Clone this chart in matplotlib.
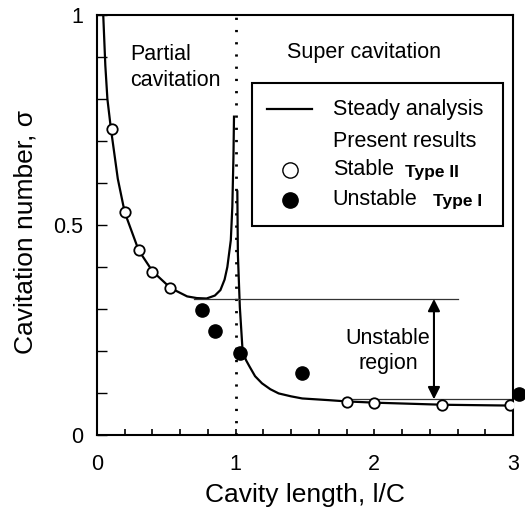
import matplotlib
matplotlib.use("Agg")
import matplotlib.pyplot as plt
from matplotlib.lines import Line2D
from matplotlib.patches import Rectangle

plt.rcParams['font.family'] = ['Liberation Sans', 'DejaVu Sans']

# Steady analysis: partial cavitation branch
partial_x = [0.045, 0.06, 0.075, 0.1, 0.15, 0.2, 0.3, 0.4, 0.53, 0.65, 0.72, 0.79, 0.85, 0.89,
             0.92, 0.94, 0.965, 0.976, 0.984, 0.988]
partial_y = [1.0, 0.88, 0.80, 0.73, 0.61, 0.53, 0.44, 0.39, 0.35, 0.33, 0.326, 0.325, 0.332, 0.345,
             0.37, 0.40, 0.464, 0.544, 0.663, 0.758]
# Steady analysis: super cavitation branch
super_x = [1.012, 1.016, 1.03, 1.05, 1.075, 1.1, 1.14, 1.19, 1.25, 1.31, 1.4, 1.48, 1.67, 1.8,
           2.0, 2.5, 3.0]
super_y = [0.58, 0.43, 0.305, 0.20, 0.178, 0.163, 0.140, 0.123, 0.109, 0.099, 0.092, 0.087,
           0.083, 0.080, 0.077, 0.072, 0.070]

# Present results
stable_x = [0.108, 0.2, 0.3, 0.4, 0.53, 1.8, 2.0, 2.49, 2.98]
stable_y = [0.729, 0.53, 0.44, 0.389, 0.35, 0.079, 0.076, 0.071, 0.071]
unstable_x = [0.76, 0.85, 1.03, 1.48, 3.04]
unstable_y = [0.298, 0.248, 0.196, 0.147, 0.098]

# Unstable region bounds
upper_bound = 0.324
lower_bound = 0.085
upper_x = [0.70, 2.60]
lower_x = [1.78, 3.0]
arrow_x = 2.43

fig = plt.figure(figsize=(5.25, 5.17), dpi=100)
ax = fig.add_axes([97/525, 82/517, 416/525, 420/517])

ax.set_xlim(0, 3)
ax.set_ylim(0, 1)

ax.plot(partial_x, partial_y, color='black', lw=1.6)
ax.plot(super_x, super_y, color='black', lw=1.6)

ax.plot([1, 1], [0, 1], color='black', lw=2.0, linestyle=(0, (0.8, 3.6)))

ax.plot(upper_x, [upper_bound, upper_bound], color='#333333', lw=0.9)
ax.plot(lower_x, [lower_bound, lower_bound], color='#333333', lw=0.9)

ax.annotate('', xy=(arrow_x, upper_bound), xytext=(arrow_x, lower_bound),
            arrowprops=dict(arrowstyle='<|-|>', color='black', lw=1.5,
                            mutation_scale=18, shrinkA=0, shrinkB=0))

ax.plot(stable_x, stable_y, 'o', mfc='white', mec='black', ms=7.5, mew=1.3, zorder=5)
ax.plot(unstable_x, unstable_y, 'o', mfc='black', mec='black', ms=9.5, zorder=5, clip_on=False)

ax.text(0.24, 0.875, 'Partial\ncavitation', fontsize=15.5, ha='left', va='center',
        linespacing=1.25)
ax.text(1.37, 0.91, 'Super cavitation', fontsize=15.5, ha='left', va='center')
ax.text(2.10, 0.20, 'Unstable\nregion', fontsize=15.5, ha='center', va='center',
        linespacing=1.25)

# Legend box (drawn manually)
ax.add_patch(Rectangle((0.373, 0.498), 0.603, 0.340, transform=ax.transAxes,
                       facecolor='white', edgecolor='black', lw=1.5, zorder=6))
ax.add_line(Line2D([0.409, 0.517], [0.776, 0.776], transform=ax.transAxes,
                   color='black', lw=1.6, zorder=7))
ax.plot([0.464], [0.631], 'o', transform=ax.transAxes, mfc='white', mec='black',
        ms=11, mew=1.0, zorder=7)
ax.plot([0.464], [0.560], 'o', transform=ax.transAxes, mfc='black', mec='black',
        ms=11, zorder=7)
lkw = dict(transform=ax.transAxes, fontsize=15.5, ha='left', va='center', zorder=7)
ax.text(0.567, 0.776, 'Steady analysis', **lkw)
ax.text(0.567, 0.698, 'Present results', **lkw)
ax.text(0.567, 0.631, 'Stable', **lkw)
ax.text(0.567, 0.560, 'Unstable', **lkw)
bkw = dict(transform=ax.transAxes, fontsize=12.5, fontweight='bold', ha='left',
           va='center', zorder=7)
ax.text(0.740, 0.626, 'Type II', **bkw)
ax.text(0.808, 0.555, 'Type I', **bkw)

ax.set_xticks([0, 1, 2, 3])
ax.set_xticks([i * 0.2 for i in range(16)], minor=True)
ax.set_yticks([0, 0.5, 1])
ax.set_yticklabels(['0', '0.5', '1'])
ax.set_yticks([i * 0.1 for i in range(11)], minor=True)
ax.tick_params(axis='x', which='both', direction='in', length=4, width=1.2,
               labelsize=15.5, pad=14)
ax.tick_params(axis='y', which='both', direction='in', length=7, width=1.0,
               labelsize=15.5, pad=10)
for s in ax.spines.values():
    s.set_linewidth(1.5)

ax.set_xlabel('Cavity length, l/C', fontsize=19)
ax.set_ylabel('Cavitation number, σ', fontsize=19)
ax.xaxis.set_label_coords(0.5, -0.114)
ax.yaxis.set_label_coords(-0.142, 0.483)

fig.savefig('out.png', dpi=100)
